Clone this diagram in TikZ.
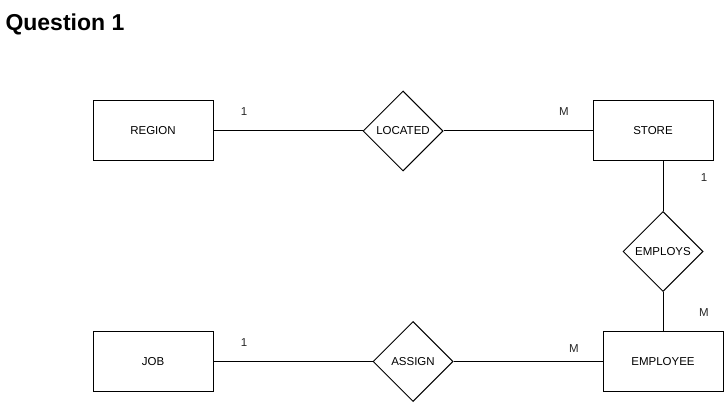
\documentclass[tikz,border=0pt]{standalone}
\usepackage{fontspec}
\setmainfont{Liberation Sans}
\usetikzlibrary{shapes.geometric}

\begin{document}
\begin{tikzpicture}[x=1pt, y=-1pt, line width=1pt]
		\useasboundingbox (0,0) rectangle (725,403);
		\tikzstyle{every node}=[align=center, inner sep=1pt, font=\fontsize{11.5}{13}\selectfont]
		\tikzstyle{entity}=[draw, rectangle, minimum width=120pt, minimum height=60pt]
		\tikzstyle{relation}=[draw, diamond, aspect=1, minimum size=80pt, inner sep=0pt]
		\tikzstyle{card}=[text=black!85]

		\node[anchor=base west, font=\fontsize{23}{26}\selectfont\bfseries] (title) at (4, 31) {Question 1};

		% entities
		\node[entity] (region) at (153, 131) {REGION};
		\node[entity] (store) at (653, 131) {STORE};
		\node[entity] (job) at (153, 361.5) {JOB};
		\node[entity] (employee) at (663, 361.5) {EMPLOYEE};

		% relationships
		\node[relation] (located) at (403, 131) {LOCATED};
		\node[relation] (employs) at (663, 251.5) {EMPLOYS};
		\node[relation] (assign) at (413, 361.5) {ASSIGN};

		\draw (region) to (located);
		\draw (located) to (store);
		\draw (employs.north |- store.south) to (employs.north);
		\draw (employs) to (employee);
		\draw (job) to (assign);
		\draw (assign) to (employee);

		% cardinalities
		\node[card] (c1) at (244, 112) {1};
		\node[card] (c2) at (564, 112) {M};
		\node[card] (c3) at (704, 178) {1};
		\node[card] (c4) at (704, 313) {M};
		\node[card] (c5) at (244, 343) {1};
		\node[card] (c6) at (574, 349) {M};
\end{tikzpicture}
\end{document}
